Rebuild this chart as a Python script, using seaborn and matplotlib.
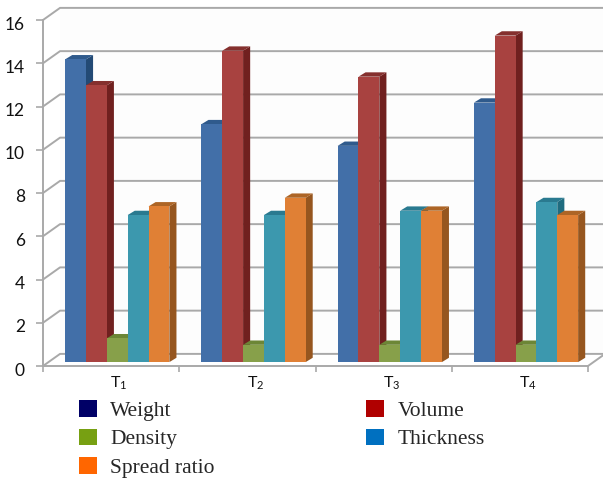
import matplotlib
matplotlib.use('Agg')
import matplotlib.pyplot as plt
import pandas as pd
import seaborn as sns
from matplotlib.lines import Line2D
from matplotlib.patches import Patch, Polygon
from matplotlib.transforms import ScaledTranslation

# Values
treatments = ['T$_{1}$', 'T$_{2}$', 'T$_{3}$', 'T$_{4}$']
weight = [14.0, 11.0, 10.0, 12.0]
volume = [12.8, 14.4, 13.2, 15.1]
density = [1.1, 0.8, 0.8, 0.8]
thickness = [6.8, 6.8, 7.0, 7.4]
spread_ratio = [7.2, 7.6, 7.0, 6.8]
series_names = ['Weight', 'Volume', 'Density', 'Thickness', 'Spread ratio']

front_colors = ['#426fa8', '#a84240', '#87a04a', '#3c98ae', '#e08035']
side_colors = ['#234a75', '#70201f', '#5f7530', '#1f6c80', '#96561f']
top_colors = ['#2f5a8c', '#85302e', '#6c8636', '#2a7a90', '#ad6526']
legend_colors = ['#000066', '#b00000', '#77a012', '#0070c0', '#ff6600']
grid_color = '#a9a9a9'

df = pd.DataFrame({'treatment': treatments, 'Weight': weight, 'Volume': volume,
                   'Density': density, 'Thickness': thickness,
                   'Spread ratio': spread_ratio})
df_long = df.melt(id_vars='treatment', var_name='series', value_name='value')

sns.set_style('white')
plt.rcParams['mathtext.fontset'] = 'custom'
plt.rcParams['mathtext.rm'] = 'Lato'
plt.rcParams['mathtext.default'] = 'rm'

fig = plt.figure(figsize=(6.03, 4.78), dpi=100)
ax = fig.add_axes([43 / 603, 1 - 366 / 478, 545 / 603, 346 / 478])
ax.patch.set_alpha(0)

sns.barplot(data=df_long, x='treatment', y='value', hue='series',
            hue_order=series_names, palette=front_colors, errorbar=None,
            width=0.765, saturation=1, legend=False, ax=ax, zorder=5)

ax.set_xlim(-0.5, 3.5)
ax.set_ylim(0, 16)
ax.set_xlabel('')
ax.set_ylabel('')

# depth of the fake 3D box and of the bars, in data units
wall_dx, wall_dy = 0.125, 0.56
bar_dx, bar_dy = 0.052, 0.2
bar_shift, bar_lift = 0.045, 0.18

# back wall and its gridlines
ax.add_patch(Polygon([(-0.5 + wall_dx, wall_dy), (3.5 + wall_dx, wall_dy),
                      (3.5 + wall_dx, 16 + wall_dy), (-0.5 + wall_dx, 16 + wall_dy)],
                     closed=True, fc='#fdfdfd', ec='none', clip_on=False, zorder=0))
for level in range(0, 17, 2):
    ax.add_line(Line2D([-0.5, -0.5 + wall_dx, 3.5 + wall_dx],
                       [level, level + wall_dy, level + wall_dy],
                       color=grid_color, lw=1.4, clip_on=False, zorder=1))
ax.add_line(Line2D([3.5, 3.5 + wall_dx], [0, wall_dy], color=grid_color, lw=1.4,
                   clip_on=False, zorder=1))

# sides and caps on each bar, left to right so neighbours overlap properly
n_groups = len(treatments)
for i, bar in enumerate(ax.patches[:n_groups * len(series_names)]):
    s = i // n_groups
    bar.set_x(bar.get_x() + bar_shift)
    bar.set_y(bar.get_y() + bar_lift)
    bar.set_zorder(5 + s * 2 + 1)
    bar.set_linewidth(0)
    x0, y0 = bar.get_x(), bar.get_y()
    x1, y1 = x0 + bar.get_width(), y0 + bar.get_height()
    ax.add_patch(Polygon([(x1, y0), (x1 + bar_dx, y0 + bar_dy),
                          (x1 + bar_dx, y1 + bar_dy), (x1, y1)],
                         closed=True, fc=side_colors[s], ec='none', zorder=5 + s * 2))
    ax.add_patch(Polygon([(x0, y1), (x0 + bar_dx, y1 + bar_dy),
                          (x1 + bar_dx, y1 + bar_dy), (x1, y1)],
                         closed=True, fc=top_colors[s], ec='none', zorder=5 + s * 2))

sns.despine(ax=ax, top=True, right=True)
for name in ['left', 'bottom']:
    ax.spines[name].set_color(grid_color)
    ax.spines[name].set_linewidth(1.4)
    ax.spines[name].set_zorder(3)

ax.set_yticks(range(0, 17, 2))
ax.tick_params(axis='y', length=5, width=1.2, color=grid_color, left=True, pad=8)
for lab in ax.get_yticklabels():
    lab.set_fontfamily('Lato')
    lab.set_fontsize(12.5)
    lab.set_color('#111111')
    lab.set_transform(lab.get_transform() + ScaledTranslation(0, -3 / 100, fig.dpi_scale_trans))

ax.set_xticks(range(n_groups))
ax.set_xticklabels(treatments)
ax.set_xticks([-0.5, 0.5, 1.5, 2.5, 3.5], minor=True)
ax.tick_params(axis='x', which='major', length=0, pad=6)
ax.tick_params(axis='x', which='minor', length=4, width=1.2, color=grid_color, bottom=True)
for lab in ax.get_xticklabels():
    lab.set_fontfamily('Lato')
    lab.set_fontsize(11.5)
    lab.set_color('#111111')
    lab.set_transform(lab.get_transform() + ScaledTranslation(8 / 100, 0, fig.dpi_scale_trans))

# legend order runs down the columns
order = [0, 2, 4, 1, 3]
handles = [Patch(fc=legend_colors[k], ec='none', label=series_names[k]) for k in order]
fig.legend(handles=handles, ncol=2, loc='upper left', bbox_to_anchor=(79 / 603, 1 - 400 / 478),
           frameon=False, prop={'family': 'Liberation Serif', 'size': 15.5},
           handlelength=0.82, handleheight=0.82, handletextpad=0.62,
           labelspacing=0.36, columnspacing=7.05, borderpad=0, borderaxespad=0)

fig.savefig('out.png', dpi=100)
